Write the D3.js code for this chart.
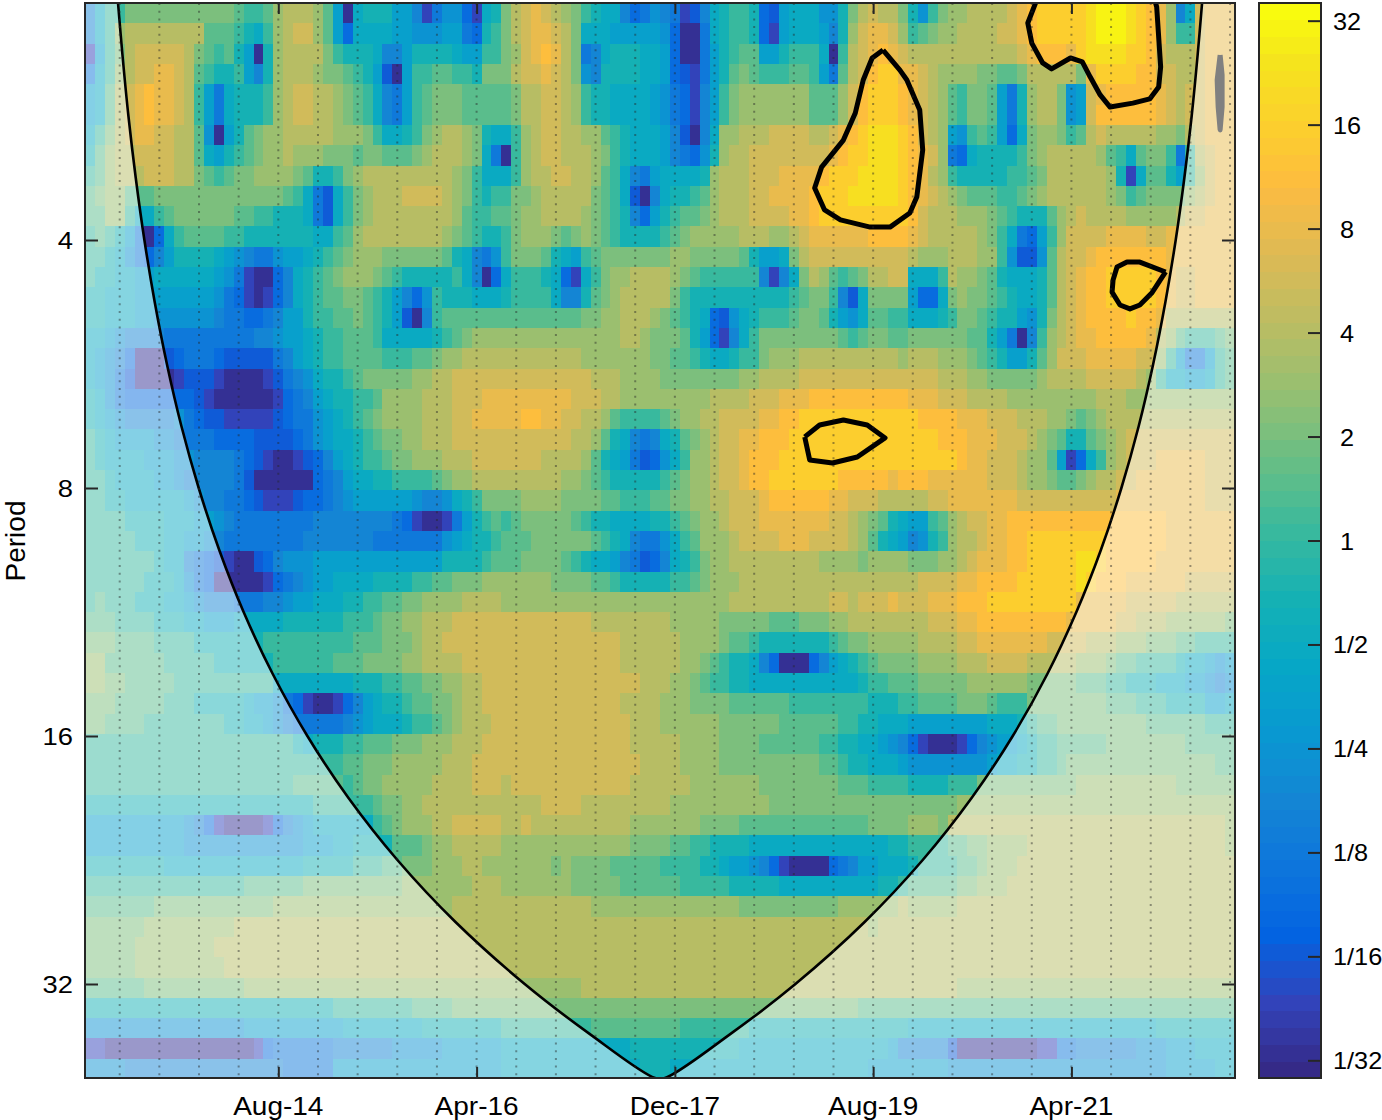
<!DOCTYPE html>
<html>
<head>
<meta charset="utf-8">
<script src="https://cdn.jsdelivr.net/npm/d3@7"></script>
<style>
  body { margin: 0; background: #fff; overflow: hidden; }
  svg { display: block; font-family: "Liberation Sans", Arial, sans-serif; }
</style>
</head>
<body>
<script>
// tick labels, all months counted from Jan-13
const monthTicks = [19, 39, 59, 79, 99];
const monthLabels = ['Aug-14', 'Apr-16', 'Dec-17', 'Aug-19', 'Apr-21'];
const periodTicks = [4, 8, 16, 32];
const powerTicks = [5, 4, 3, 2, 1, 0, -1, -2, -3, -4, -5];
const powerLabels = ['32', '16', '8', '4', '2', '1', '1/2', '1/4', '1/8', '1/16', '1/32'];
// parula, sampled at these of its 64 steps
const parulaSteps = [0, 4, 8, 12, 16, 20, 24, 28, 32, 36, 40, 44, 48, 52, 53, 56, 60, 63];
const parulaStops = ['#352a87', '#3243ba', '#0363e1', '#0d75dc', '#1485d4', '#0998d1', '#06a7c6', '#15b1b4', '#38b99e', '#65be86', '#92bf73', '#b7bd64', '#d9ba56', '#f8bb44', '#fdbe3d', '#fcce2e', '#f5e41d', '#f9fb0e'];

// one string per period row, one letter per month: a = 1/32 ... k = 1 ... u = 32, half octave steps
const powerRows = [
  'fikkmmmmmm mmmmmlkkln ooonlhaijj jhhfbeggdb ijmopqponm kjiifdegfe bcfijkkjdc hiiiggjmop oomjgkmnno ooopqrssss stuuutsrqn fipqqq',
  'fiknoooooo oolllkjikn oppnlhdiii ihhggghhed jkmopqqpom iiihhhhhgd aaeijkkjdb hiiihfjnpq qpnklmnnoo ooppqrssss stuuutsrqn kkpqqq',
  'bhkmoppppp omlkljhajn oooomkjjji ffhjjjjihh kkmnpqrqom efijjjiihd aaehjkllhh jkkkiakopq rqpooooooo oooopqrrrq sttttssrpo oopqqq',
  'eiknoppqqp olkjjkhfjn ooonmmlkjh cahkkllkkj mmmoppqpom gfjjjjiihd cbehjlmlkk kllkhelopr ssqqponnnn mmllmooooo mqssssrrpp oopqqq',
  'hilopqrqqp okheijjjkn oppoonmlki fehklmmmll lllmooppon kjjiiiihge dbfhkmnnnn nnnlllnprs ssrqponlkm mlhejnoomg hpqrrrrrqp oppqqq',
  'hilopqrqqp okheijjjkn oppoonmlki fehklmmmll lllmooppon kjjiiiihge dbfhkmnnnn nnnlllnprs ssrqponlkm mlhejnoomg hprrrrrrqp oppqqq',
  'ikmopqqppo olgahjlmnn ooooonnnmk iijkmnoonm jiiknoppoo nnlkjiiihf cafinnooop pppoopqrst ttsrponhgk lkhdimnnmk lopooooonn mopqqq',
  'jlnooppppo olihjklmnn onnnmmmlmm lllmnooonm ieaknoppoo onmkjiiihf edgjnooppp pppppqrsst ttsrqpnedi jjjjkmnooo oonlkilmmk ekopqq',
  'klnooopppo omlklmmnnn nmljjkmnoo ooooooonmk iiiknooppo onlkifehii iijnoooppp qqqqrssstt ttsrqonkjj jjjkklmooo ooonjbillj hknpqq',
  'lmnnlllmmm mmmmmmmmmm lkiecikmno oopppponmk jkkmmnoooo omlkicafij jklnoooppq qqqrsssttt ttsrqponml llkklmnooo ooonmklmmm mnopqq',
  'llnnkiiklm mmmmmllkkj jjiecikmno ooooooonlk kllmnnoooo nmlkjfdhjk llmnoooppp pqqrssssss sssrpooonn nmlkjjjlno poooonnnnn oppqqq',
  'klkjheadik llllkkjjjj jjjiiklnoo oooooonmlk jjkmnnnmlm nmlkjjjjkl mnnnnnooon nopqqqqqqr rrrqpooooo nmkiedhknp pppqqqqppq qqqqqq',
  'kkjigedfhj jjjihgfeeg hhijklmnnn mmmmmmljif egkmmmljih klmmmmmmmn nmmmmmljhh imoppppppp ppponnnooo nnkgccglop pqrrrrrrrq qqqqqq',
  'kjjiihhiii iiihgebaad fijklmnnnm lkjjjjjkif adikkkjidb ikmnnoooon mlkkkkkkfb fimonlklmo oppiiikonn mljiiijlop qrrsssssrq ppqqqq',
  'jjiiihhhhh hhhgedbabd fijkllmmlk jhfdgkjjji iijkkkkiff jlmnooooom kjjjjjjjjj jklmmkfcim mmmhddimnm mlkjiijlop qrrsssssrq ppqqqq',
  'jjiiihhggg gggfeeddef hhjkkllmlk jhcafkllll llllllllll mmnnooonml kjidcgijkk klmmljhgil lkkiiijkmm lkjjhgjmop qrrrrsrrqo oooooo',
  'iihgffffee eeeeeeeffg hhijkklllk iiiiijklmn nnnnnnnnnn nnnnoonmmm ljhdbfikmm mmmmmmlklm mllmmmmmml ljheafknop qqrrrrrqon lkkklm',
  'ihgfdaaacd eeedccccce fhijkkllll kkkllmnnoo oooooooooo nnnnnnnmml lkjiijkkmn nnoooooooo oonooonnnm lkjhhjlnpp pqqqqqppnk heehkl',
  'ihgecaaaab cccbaaaabc efgijjklmm mmmnnooppp pppppppppp pooonnnnmm mmmmmmnnoo oopppppppp ppppppooon nmmmmmnooo opppppon ki ihhikl',
  'jigedddddd dcbaaaaaab defhijjkkl nnnnoooppp qqqqqqqqqp ppoonnnnnn nnnooooppp qqqrrrrrrr rrrqqqpppo ooonnnnnnn nnooonnnnn nnnnnn',
  'jihgfffffg edccbbbbbc deeghijklm nnnnoooppq qqqqrrqqpp oonlkkkklm nnoopppp qq rrssssssss ssssrrrrqq qpppooonnm lmnooooooo oooooo',
  'kjihhhhggf eeeddddccc cdeghiijkl mmnnoooppp pppppppppo onljifefij lmnoppqqrr rsssssssss ssssssrrrq qqpppo nmlj jlmnoppppp pppppp',
  'kjiiiihhhg gffffedcba abcdfhijkk lmmnnnooop ppppppoooo nljihecdgi knnoppqrrr ssssssssss ssssssssrq qpppo nnlhb diknopppqq qqqppp',
  'kkjiiiihhg fffffecaaa aaadefhiij jkkkklmnno oooooooonn mlkjjjjjkl mnnoppqrrs ssssssrrrr rqrrrqqqqq qpppo nnmll mnoopp qqqq qqqppp',
  'kkjjiiiiii hgffeedcbb bcddefghhh hhhgffgijk mmmmnnnnmm mmllkkkllm mnnoopppqr rrrrrqqppp oooooppqqq qqqqpppppp ppppqqqqqq qqqppp',
  'kkkkjjjjii ihhgfeeeee eeefffffff fedbaabehj klklmmmmml kjjiiiijjk lmnnopppqq qqqqqpponm ljihhklnop pqqrrrrrrr rrrrrrrrrq qqqqqq',
  'kkkkkjjjii hhgfeeeeee eefffffffe eeeeeeghij jklllmmmmm mlkjifeegi klnnnopppp qqqppppon l jihfgjknoo pqqrrsssss sssrrrrrrq qqqqqq',
  'kkkkkkkjii fedcbaacdf ggghhhhhhh hhhhhhjjjj klllmmmmlk jiihfecdfi jkmnnooooo oooonnnnmn nnnmmmnnop qqqrrsssss ttsrrrrrqq qqqqqq',
  'kkkkkkjjji gedaaaaabd efghhiiiij jjjkkllmmm nnnnnnnmmm mllkjjjjjk klmnnnoooo oooooooooo oooopppp qq rrrrssssss tsrrrqqqqq qppppp',
  'klkkkjjjii hgfffeeeff ghhiiijjkk llmmnnnnoo oonnnnnnnn nnnnnnnnnn nnnnnooooo oooooppopp pqpppqqqrr rsssssssss qqqqqppppp oooooo',
  'lllkkkkjjj iihhhiiiii jjjjjjkkkl mmnnoooppp pppppppppp poooooooon nnnnmmmmml llmmmnnooo oooooppp qq rrrrrrrrrq qqqqppooon nnnnnm',
  'mmmllllkkk kjjjjjjjkk kkkkkkklll mmmnoopppp pppppppppp ppppoooooo nnnnmllkjj jjjjjklmmn nnnnoooopp qqqqqqqppp pooonnnmmm llkkkk',
  'nnllllllkk kkkjjjjjjk kkkkklllmm mmnnoooopp pppppppppp ppppoooooo nnmlkjjifd aaadfhijkl mmmmnnnnoo oppppooooo nnnmllkkkk jiihgh',
  'nnmmlllllk kkkkkkkkki iiiiiiijjj kkllmmnnoo pppppppppp ppppppooon nmlkkjjiii iiiiiiiijk klllmmmmmn nnnnnmmmmm lllkkjjjii ihhgfg',
  'mmmlllllkk kjjjjjihhg edbaabdfhi jjkllmmnoo pppppppppp ppppoooonn nmmmmlllll lkkkkkkkkj jjkkllllmm mlkkkmmmmm mmmlllkkkj jjjhhi',
  'mmllllkkkk kkkkjjiihg feeeeefghi iijkklmnoo oppppppppp pppppooonn nnnnmmmmmm llllllkkjj iiihhhhhhh hiiijkllmm mmmmmmmlll lllkkk',
  'kkkkkkkkkk kkkkkkkkkk kjijjjkkll lmmmnnnooo pppppppppp pppppooooo nnnnmmmmll llllkkjjii hgfdbaaabd fghhijkkll lllmmmmmmm mlllll',
  'kkkkkkkkkk kkkkkkkkkk kkkkkkllmm mnnnnnooop pppppppppp ppppppoooo nnnnmmmmmm mmmmllkjji iihggggggg ghiijjkklm mmmmmmmmmm mmmmll',
  'kkkkkkkkkk kkkkkkkkkk klllllklmm nnnnnoooop ppoppppppp pppppooooo onnnnnnnmm mmmmmmlllk kkkjjjjkkk mmmmmmmmmm nnnnnnnnnn mmmmmm',
  'jjjjjjjjjj jjjjjjjjjj jjjkkkkkkl mmnnoooooo oooooopppp ooooooooon nnnnnnnnnm mmmmmmmmmm mmmmmmmmnn nnnnnnnnnn nnnnnnnnnn nnnnnn',
  'hhhhhhhhhh gfdbaaaabd fghiiiiiik lmnnnooppp ppoopooooo ooooonnnnn nnmmmmllll lllllllllm mmmnnnmooo oooooooooo oooooooooo ooooon',
  'hhhhhhhhhh gggggggggg gghhhiijjj jlllmnnooo oonnnnnnnn nnnnnmmmml lkkjjjjiii iiiiiiiiii ijjkkkkllm mnnnnooooo oooooooooo ooooon',
  'jjjjjjjjii iiiiiiiiii iijjjjjkkk llmmmnnnoo nnnnnnnmnm mmmlllllkk kkjjihhgfd baaaadefhh iiijkkkkll mnnnoooooo oooooooooo oooooo',
  'kkkkkkkkkk kkkkkkllll llmmmmmmmm mmnnnnnnno oonnnnnnnm mmmmllllll kkkkkjjjjj iiiiiiiiii jjklllllmm nnnooooooo oooooooooo oooooo',
  'lllllllmmm mmmmmmmmmn nnnnnnnnnn nnnnnnnooo oooooooooo onnnnnnnnn nnnnnnmmmm mmmmmmnnnn nnonnnnnoo oooooooooo oooooooooo oooooo',
  'mmmmmmnnnn nnnnnooooo oooooooooo oooooooooo oooooooooo oooooooooo oooooooooo ooooooooon oooooooooo oooooooooo oooooooooo oooooo',
  'mmmmmnnnnn nnnooooooo oooooooooo oooooooooo oooooooooo oooooooooo oooooooooo oooooooooo oooooooooo oooooooooo oooooooooo oooooo',
  'mmmmmnnnnn nnnnoooooo oooooooooo oooooooooo oooooooooo oooooooooo oooooooooo oooooooooo oooooooooo oooooooooo oooooooooo oooooo',
  'llllllmmmm mmmmmmnnnn nnnnnnnnnn nnnnnnnnnn nnnnnnnnnn oooooooooo oooooooooo oooooooooo oooooooonn nnnnnnnnnn nnnnnnnnnn nnnnnn',
  'jjjjjjjjjj jjjjjjjjjj jjjjjkkkkk kkkllllmmm mmmmmmmmmm mmmmmmmmmm mmmmmmmmmm mmmmmmmmll llllllllll llllllllll llllllllll llllll',
  'gggggggggg gggggghhhh hhhhhhiiii iiiijjjjjj jjkkkkkkkk klllllllll kkkkkkkjjj jjjjjjjjjj jjjiiiiiii iiiiiiiiii iiiiiiiijj jjjjjj',
  'bbaaaaaaaa aaaaaaabde eeeeefffff fggggghhhh hhiiiiiiii iiiiijjjjj jjjjjjiiii iiiiiiiiii ihfffffcaa aaaaaabbee ffffffgggh hhiiii',
  'ggggffffff ffffffffff eeeeehhhhh hhhhhhhhhh hhiiiiiiii iiiiiijjji iiiiiiiiii iiiiiiiiih hhhhhhhggg gggggggggg gggggggggh hhhhii'
];

// cone of influence, month and log2 of period
const coiMonths = [3.33, 3.77, 4.38, 5.12, 5.99, 7.03, 8.26, 9.72, 11.47, 13.54, 16, 18.94, 22.43, 26.58, 31.51, 37.37, 44.35, 50.86, 57.5, 58.5, 65.15, 71.66, 78.64, 84.5, 89.43, 93.58, 97.07, 100, 102.47, 104.54, 106.29, 107.75, 108.98, 110.02, 110.89, 111.63, 112.24, 112.68];
const coiOctaves = [1.044, 1.25, 1.5, 1.75, 2, 2.25, 2.5, 2.75, 3, 3.25, 3.5, 3.75, 4, 4.25, 4.5, 4.75, 5, 5.2, 5.379, 5.379, 5.2, 5, 4.75, 4.5, 4.25, 4, 3.75, 3.5, 3.25, 3, 2.75, 2.5, 2.25, 2, 1.75, 1.5, 1.25, 1.044];

// significance contours, [month, log2 period]
const contourA = [[80.5,1.234],[79.4,1.266],[78.5,1.355],[77.7,1.488],[76.5,1.597],[74.3,1.706],[73.6,1.79],[74.6,1.879],[76.2,1.919],[79.2,1.948],[81.2,1.948],[83.2,1.891],[83.9,1.827],[84.5,1.637],[84.2,1.476],[82.9,1.355],[82.2,1.315],[80.5,1.234]];
const contourB = [[96,1.032],[95.1,1.125],[95.5,1.206],[96.6,1.286],[97.5,1.31],[99.4,1.266],[100.6,1.282],[101.4,1.343],[102.4,1.415],[103.4,1.464],[105.7,1.448],[107.4,1.431],[108.3,1.383],[108.5,1.302],[108.1,1.06],[107.9,1.032]];
const contourC = [[109,2.129],[106.4,2.089],[105.1,2.089],[104.1,2.109],[103.7,2.161],[103.6,2.21],[104.4,2.262],[105.4,2.278],[106.4,2.262],[107.6,2.214],[109,2.129]];
const contourD = [[72.6,2.794],[74.1,2.746],[76.5,2.726],[78.9,2.746],[80.7,2.798],[77.9,2.875],[75.4,2.899],[73.1,2.887],[72.6,2.794]];
const contourE = [[114.5,1.254],[114.7,1.335],[114.7,1.464],[114.5,1.556],[114.3,1.464],[114.2,1.355],[114.5,1.254]];

const width = 1382, height = 1120;
const plot = { left: 85, right: 1235, top: 3, bottom: 1078 };
const firstOctave = 1.045, octavePerRow = 0.08185;
const axisColor = '#262626';

let svg = d3.select('body').append('svg').attr('width', width).attr('height', height);

let x = d3.scaleLinear().domain([0, 116]).range([plot.left, plot.right]);
let y = d3.scaleLog().base(2).domain([4, 32]).range([240, 984]);
let yOct = o => y(Math.pow(2, o));
let barY = d3.scaleLinear().domain([-5.17, 5.17]).range([plot.bottom, plot.top]);

let ramp = d3.scaleLinear().domain(parulaSteps).range(parulaStops);
let colorOf = v => ramp(Math.max(0, Math.min(63, Math.floor((v + 5.17) / 10.34 * 64))));

let cells = [];
powerRows.forEach((row, k) => {
  let s = row.replace(/ /g, '');
  d3.range(116).forEach(m => {
    let ch = s[Math.min(m, s.length - 1)];
    cells.push({ month: m, row: k, value: (ch.charCodeAt(0) - 97) / 2 - 5 });
  });
});

svg.append('clipPath').attr('id', 'plot-clip').append('rect')
  .attr('x', plot.left).attr('y', plot.top)
  .attr('width', plot.right - plot.left).attr('height', plot.bottom - plot.top);

let inner = svg.append('g').attr('clip-path', 'url(#plot-clip)');

inner.append('g').attr('shape-rendering', 'crispEdges')
  .selectAll('rect').data(cells).enter().append('rect')
  .attr('x', d => Math.round(x(d.month)))
  .attr('width', d => Math.round(x(d.month + 1)) - Math.round(x(d.month)))
  .attr('y', d => Math.round(yOct(firstOctave + d.row * octavePerRow)) - (d.row === 0 ? 3 : 0))
  .attr('height', d => Math.round(yOct(firstOctave + (d.row + 1) * octavePerRow)) - Math.round(yOct(firstOctave + d.row * octavePerRow)) + (d.row === 0 ? 3 : 0))
  .attr('fill', d => colorOf(d.value));

// contours go under the mask, the one outside the cone turns grey
let contourLine = d3.line().x(d => x(d[0])).y(d => yOct(d[1])).curve(d3.curveLinear);
inner.selectAll('path.contour').data([contourA, contourB, contourC, contourD, contourE]).enter().append('path')
  .attr('class', 'contour')
  .attr('d', contourLine)
  .attr('fill', 'none').attr('stroke', '#000').attr('stroke-width', 5).attr('stroke-linejoin', 'round');

let coiPoints = coiMonths.map((m, i) => [m, coiOctaves[i]]);
let coiLine = d3.line().x(d => x(d[0])).y(d => yOct(d[1])).curve(d3.curveCatmullRom.alpha(0.5));

inner.append('path')
  .attr('d', `M${plot.left},${plot.top}H${plot.right}V${plot.bottom}H${plot.left}Z` + coiLine(coiPoints) + 'Z')
  .attr('fill', '#fff').attr('fill-opacity', 0.5).attr('fill-rule', 'evenodd');

inner.append('path')
  .attr('d', coiLine(coiPoints))
  .attr('fill', 'none').attr('stroke', '#000').attr('stroke-width', 2.6);

// dotted vertical grid every 4 months
inner.selectAll('line.grid').data(d3.range(3.5, 116, 4)).enter().append('line')
  .attr('class', 'grid')
  .attr('x1', d => x(d)).attr('x2', d => x(d))
  .attr('y1', plot.top).attr('y2', plot.bottom)
  .attr('stroke', axisColor).attr('stroke-opacity', 0.45).attr('stroke-width', 2).attr('stroke-dasharray', '2 5.7');

// axes, ticks point inwards on all four sides
let styleAxis = g => {
  g.selectAll('.domain').remove();
  g.selectAll('line').attr('stroke', axisColor).attr('stroke-width', 2);
  g.selectAll('text').remove();
};
let tickMonths = monthTicks.map(m => m + 0.5);
svg.append('g').attr('transform', `translate(0,${plot.bottom})`)
  .call(d3.axisBottom(x).tickValues(tickMonths).tickSize(-11)).call(styleAxis);
svg.append('g').attr('transform', `translate(0,${plot.top})`)
  .call(d3.axisTop(x).tickValues(tickMonths).tickSize(-11)).call(styleAxis);
svg.append('g').attr('transform', `translate(${plot.left},0)`)
  .call(d3.axisLeft(y).tickValues(periodTicks).tickSize(-13)).call(styleAxis);
svg.append('g').attr('transform', `translate(${plot.right},0)`)
  .call(d3.axisRight(y).tickValues(periodTicks).tickSize(-13)).call(styleAxis);

svg.append('rect')
  .attr('x', plot.left).attr('y', plot.top)
  .attr('width', plot.right - plot.left).attr('height', plot.bottom - plot.top)
  .attr('fill', 'none').attr('stroke', axisColor).attr('stroke-width', 2);

// the source picture is stretched sideways, so is its text
svg.selectAll('text.month').data(monthLabels).enter().append('text')
  .attr('class', 'month')
  .attr('transform', (d, i) => `translate(${x(tickMonths[i])},1115) scale(1.12,1)`)
  .attr('text-anchor', 'middle').attr('font-size', 25).attr('fill', '#000')
  .text(d => d);

svg.selectAll('text.period').data(periodTicks).enter().append('text')
  .attr('class', 'period')
  .attr('transform', d => `translate(73,${y(d) + 9}) scale(1.14,1)`)
  .attr('text-anchor', 'end').attr('font-size', 24).attr('fill', '#000')
  .text(d => d);

svg.append('text')
  .attr('transform', 'translate(25,541) rotate(-90)')
  .attr('text-anchor', 'middle').attr('font-size', 28).attr('fill', '#000')
  .text('Period');

// colorbar
let barX = 1259, barW = 62;
svg.append('g').attr('shape-rendering', 'crispEdges')
  .selectAll('rect').data(d3.range(64)).enter().append('rect')
  .attr('x', barX).attr('width', barW)
  .attr('y', d => barY(-5.17 + (d + 1) / 64 * 10.34))
  .attr('height', (plot.bottom - plot.top) / 64 + 0.5)
  .attr('fill', d => ramp(d));

svg.append('g').attr('transform', `translate(${barX + barW},0)`)
  .call(d3.axisLeft(barY).tickValues(powerTicks).tickSize(13)).call(styleAxis);

svg.append('rect')
  .attr('x', barX).attr('y', plot.top).attr('width', barW).attr('height', plot.bottom - plot.top)
  .attr('fill', 'none').attr('stroke', axisColor).attr('stroke-width', 2);

svg.selectAll('text.power').data(powerLabels).enter().append('text')
  .attr('class', 'power')
  .attr('transform', (d, i) => `translate(${d.length === 1 ? 1340 : 1333},${barY(powerTicks[i]) + 9}) scale(1.1,1)`)
  .attr('font-size', 23).attr('fill', '#000')
  .text(d => d);
</script>
</body>
</html>
